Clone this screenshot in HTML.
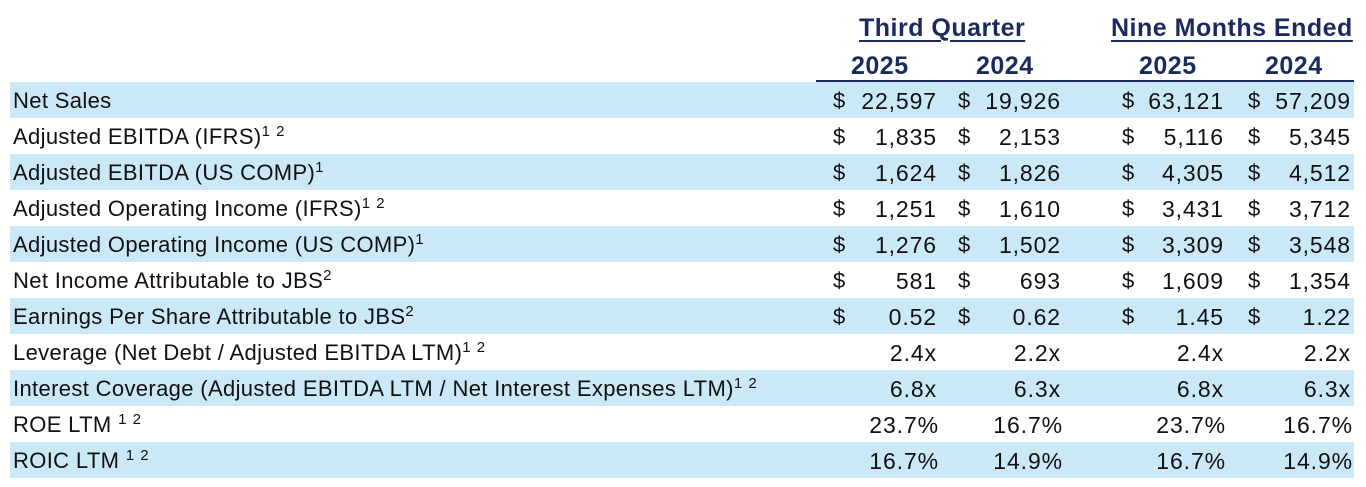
<!DOCTYPE html>
<html><head><style>
body{margin:0;width:1366px;height:487px;background:#fff;font-family:"Liberation Sans",sans-serif;position:relative;overflow:hidden;color:#111}
.h{position:absolute;font-weight:bold;color:#1b2a5c;font-size:25px;letter-spacing:0.5px;white-space:nowrap}
.u{text-decoration:underline;text-decoration-thickness:2px;text-underline-offset:4px}
.line{position:absolute;left:816px;width:538px;top:80px;height:3px;background:#1b2a5c}
.row{position:absolute;left:10px;width:1344px;height:36px;font-size:22px;line-height:38px}
.row.b{background:#cbe8f7}
.l{position:absolute;left:3px;white-space:nowrap;letter-spacing:0.35px}
.d{position:absolute;width:14px}
.n{position:absolute;text-align:right;width:110px;font-size:23px;letter-spacing:0.9px}
sup{font-size:15px;vertical-align:8px;line-height:0;letter-spacing:1px}
</style></head><body>
<div class="h u" style="left:859px;top:14px">Third Quarter</div>
<div class="h u" style="left:1111px;top:14px">Nine Months Ended</div>
<div class="h" style="left:851px;top:52px">2025</div>
<div class="h" style="left:976px;top:52px">2024</div>
<div class="h" style="left:1139px;top:52px">2025</div>
<div class="h" style="left:1265px;top:52px">2024</div>
<div class="line"></div>
<div id="t"></div>
<script>
var R=[["Net Sales","$","22,597","19,926","63,121","57,209"],
["Adjusted EBITDA (IFRS)<sup>1 2</sup>","$","1,835","2,153","5,116","5,345"],
["Adjusted EBITDA (US COMP)<sup>1</sup>","$","1,624","1,826","4,305","4,512"],
["Adjusted Operating Income (IFRS)<sup>1 2</sup>","$","1,251","1,610","3,431","3,712"],
["Adjusted Operating Income (US COMP)<sup>1</sup>","$","1,276","1,502","3,309","3,548"],
["Net Income Attributable to JBS<sup>2</sup>","$","581","693","1,609","1,354"],
["Earnings Per Share Attributable to JBS<sup>2</sup>","$","0.52","0.62","1.45","1.22"],
["Leverage (Net Debt / Adjusted EBITDA LTM)<sup>1 2</sup>","","2.4x","2.2x","2.4x","2.2x"],
["Interest Coverage (Adjusted EBITDA LTM / Net Interest Expenses LTM)<sup>1 2</sup>","","6.8x","6.3x","6.8x","6.3x"],
["ROE LTM <sup>1 2</sup>","","23.7%","16.7%","23.7%","16.7%"],
["ROIC LTM <sup>1 2</sup>","","16.7%","14.9%","16.7%","14.9%"]];
var ds=[823,948,1112,1238],re=[927,1051,1214,1341],h="";
R.forEach(function(r,i){var pct=r[1]==""&&r[2].indexOf("%")>0;
h+='<div class="row'+(i%2==0?' b':'')+'" style="top:'+(82+i*36)+'px"><span class="l">'+r[0]+'</span>';
for(var k=0;k<4;k++){if(r[1])h+='<span class="d" style="left:'+ds[k]+'px">$</span>';
h+='<span class="n" style="left:'+(re[k]-110+(pct?2:0))+'px">'+r[2+k]+'</span>';}
h+='</div>';});
document.getElementById("t").innerHTML=h;
</script>
</body></html>
